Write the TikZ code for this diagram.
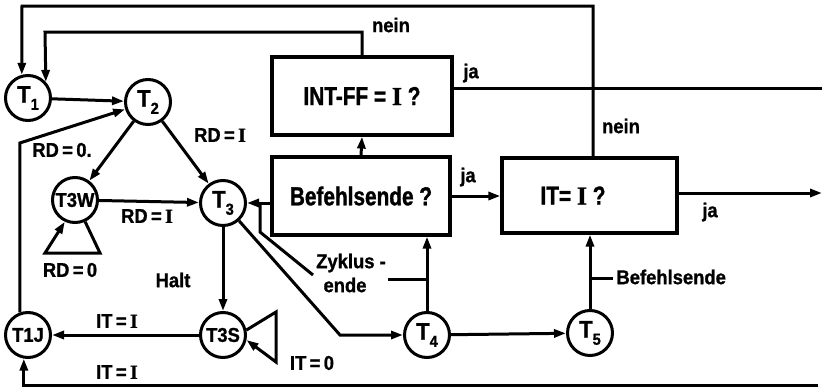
\documentclass[tikz,border=0pt]{standalone}
\usepackage{fontspec}
\setmainfont{Liberation Sans}
\newfontfamily\boxfont{Liberation Sans}[FakeStretch=0.8, FakeBold=1.2]
\newfontfamily\labfont{Liberation Sans}[FakeStretch=0.92, FakeBold=1]
\newfontfamily\serfont{Liberation Serif}[FakeBold=1]
\usetikzlibrary{arrows.meta,calc}
\newcommand{\RI}{{\serfont\bfseries I}}
\newcommand{\Tsub}[1]{T\raisebox{-0.3em}{\fontsize{16}{16}\selectfont #1}}
\begin{document}
\begin{tikzpicture}[x=1pt,y=-1pt,
  line width=3pt,
  state/.style={circle, draw, line width=3pt, minimum size=45pt, inner sep=0pt,
    font=\labfont\bfseries\fontsize{20}{20}\selectfont},
  tnode/.style={state, font=\labfont\bfseries\fontsize{24}{24}\selectfont},
  box/.style={draw, line width=3.2pt, inner sep=0pt,
    font=\boxfont\bfseries\fontsize{26}{26}\selectfont},
  lab/.style={inner sep=0pt, font=\labfont\bfseries\fontsize{20}{20}\selectfont},
  arr/.style={-{Triangle[length=12pt,width=8pt]}},
]
\useasboundingbox (0,0) rectangle (824,388);

% states
\node[tnode] (T1) at (28,98) {\Tsub{1}};
\node[tnode] (T2) at (148,102) {\Tsub{2}};
\node[state] (T3W) at (75,200) {T3W};
\node[tnode] (T3) at (223,203) {\Tsub{3}};
\node[state] (T1J) at (28,335) {T1J};
\node[state] (T3S) at (223,335) {T3S};
\node[tnode] (T4) at (427,335) {\Tsub{4}};
\node[tnode] (T5) at (590,333) {\Tsub{5}};

% boxes
\node[box, minimum width=180pt, minimum height=78pt] (INT) at (362,96) {INT-FF = \RI\ ?};
\node[box, minimum width=178pt, minimum height=78pt] (BEF) at (361,196) {Befehlsende ?};
\node[box, minimum width=175pt, minimum height=75pt] (IT) at (589.5,195.5) {\hspace*{-33pt}IT= \RI\ ?};

% outer feedback loops
\coordinate (outerL) at (22,6);
\coordinate (outerR) at (593,6);
\draw[arr] ([xshift=3.5pt]IT.north) -- (outerR) -- (outerL) -- (T1.105);
\coordinate (innerL) at (45,32);
\draw[arr] (INT.north) |- (innerL) -- (T1.42);

% box outputs
\coordinate (jaR) at (822,88);
\draw (INT.east |- jaR) -- (jaR);
\draw[arr] (BEF.north) -- (INT.south);
\draw[arr] (BEF.east) -- (IT.west |- BEF.east);
\coordinate (itR) at (822,193);
\draw[arr] (IT.east |- itR) -- (itR);

% state transitions
\draw[arr] (T1) -- (T2);
\coordinate (lc) at (20,143);
\draw[arr] (T1J.110) -- (T1J.110 |- lc) -- (T2);
\draw[arr] (T2) -- (T3W);
\draw[arr] (T2) -- (T3);
\draw[arr] (T3W) -- (T3);
\coordinate (wR) at (100,253);
\coordinate (wL) at (45,253);
\draw[arr] (T3W.-65) -- (wR) -- (wL) -- (T3W.-115);
\draw[arr] (T3) -- (T3S);
\coordinate (sT) at (276,312);
\coordinate (sB) at (276,362);
\draw[arr] (T3S.12) -- (sT) -- (sB) -- (T3S.-12);
\draw[arr] (T3S) -- (T1J);
\coordinate (botR) at (818,385);
\draw[arr] (botR) -| (T1J.-100);
\draw[arr] (BEF.west |- T3) -- (T3);
\coordinate (t4c) at (340,335);
\draw[arr] (T3.-48) -- (t4c) -- (T4.west);
\draw[arr] (T4.north) -- (T4.north |- BEF.south);
\draw[arr] (T4) -- (T5);
\draw[arr] (T5.north) -- (T5.north |- IT.south);

% leaders
\coordinate (z1) at (260,203);
\coordinate (z2) at (260,232);
\coordinate (z3) at (313,275);
\draw (z1) -- (z2) -- (z3);
\coordinate (z4) at (388,279);
\draw (z4) -- (z4 -| T4.north);
\coordinate (b1) at (613,278);
\draw (b1 -| T5.north) -- (b1);

% labels
\node[lab] (nein1) at (391,25) {nein};
\node[lab] (ja1) at (471,73) {ja};
\node[lab] (ja2) at (468,177) {ja};
\node[lab] (nein2) at (621,126) {nein};
\node[lab] (ja3) at (710,212) {ja};
\node[lab, anchor=west] (bef2) at (615,277) {Befehlsende};
\node[lab] (zyk) at (351,263) {Zyklus -};
\node[lab] (ende) at (345,285) {ende};
\node[lab] (rd0a) at (62,150) {RD\,=\,0.};
\node[lab] (rdI1) at (220,135) {RD\,=\,\RI};
\node[lab] (rdI2) at (147,216) {RD\,=\,\RI};
\node[lab] (rd0b) at (70,270) {RD\,=\,0};
\node[lab] (halt) at (173,280) {Halt};
\node[lab] (itI1) at (117,321) {IT\,=\,\RI};
\node[lab] (itI2) at (117,372) {IT\,=\,\RI};
\node[lab] (it0) at (312,363) {IT\,=\,0};
\end{tikzpicture}
\end{document}
